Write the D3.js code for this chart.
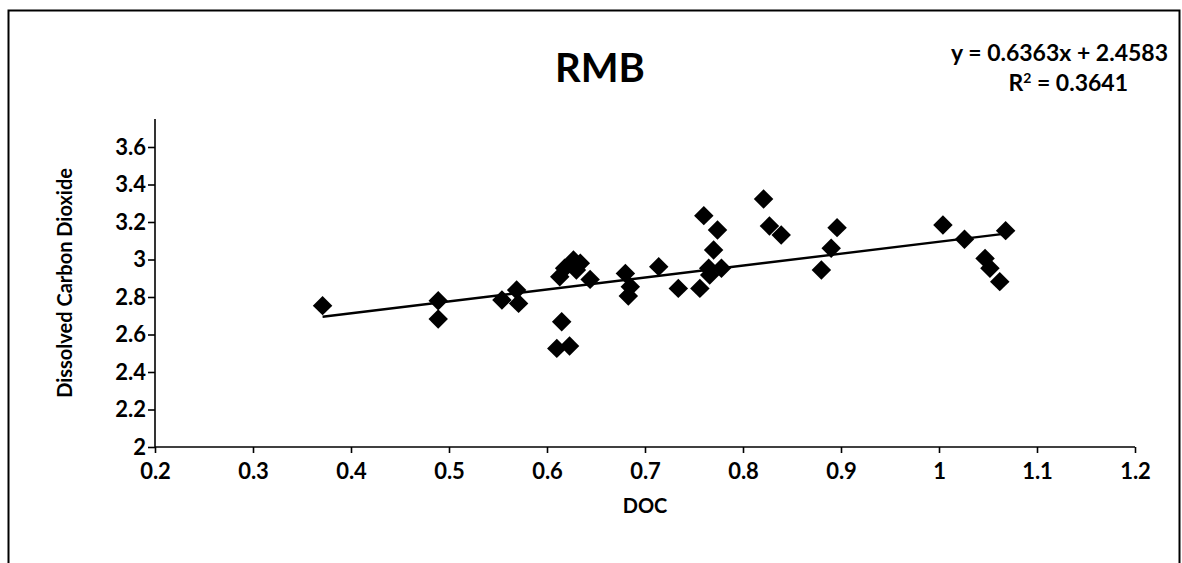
<!DOCTYPE html>
<html>
<head>
<meta charset="utf-8">
<script src="https://cdn.jsdelivr.net/npm/d3@7"></script>
<style>
  html, body { margin: 0; padding: 0; background: #fff; }
  svg { display: block; }
  text { font-family: Lato, "Open Sans", "DejaVu Sans", sans-serif; fill: #000; }
</style>
</head>
<body>
<svg id="chart" width="1182" height="563"></svg>
<script>
// Dissolved CO2 vs DOC at site RMB
const docValues = [
  0.371, 0.489, 0.489, 0.554, 0.569, 0.571,
  0.615, 0.610, 0.623, 0.627, 0.618, 0.613, 0.630, 0.634, 0.644,
  0.680, 0.685, 0.683, 0.714, 0.734, 0.756, 0.760, 0.774, 0.770,
  0.765, 0.766, 0.778, 0.821, 0.827, 0.839,
  0.896, 0.890, 0.880, 1.004, 1.026, 1.068, 1.047, 1.052, 1.062
];
const co2Values = [
  2.754, 2.780, 2.683, 2.784, 2.837, 2.766,
  2.668, 2.526, 2.539, 2.997, 2.953, 2.908, 2.944, 2.980, 2.894,
  2.926, 2.855, 2.805, 2.962, 2.846, 2.846, 3.234, 3.157, 3.051,
  2.953, 2.917, 2.953, 3.323, 3.179, 3.131,
  3.170, 3.060, 2.944, 3.184, 3.108, 3.154, 3.006, 2.953, 2.882
];
const xTicks = [0.2, 0.3, 0.4, 0.5, 0.6, 0.7, 0.8, 0.9, 1, 1.1, 1.2];
const yTicks = [2, 2.2, 2.4, 2.6, 2.8, 3, 3.2, 3.4, 3.6];
const trendSlope = 0.6363;
const trendIntercept = 2.4583;
const rSquared = 0.3641;

const svg = d3.select("#chart");

// outer chart frame
svg.append("rect")
  .attr("x", 8.5).attr("y", 10.5)
  .attr("width", 1171).attr("height", 600)
  .attr("fill", "none").attr("stroke", "#000").attr("stroke-width", 2);

const x = d3.scaleLinear().domain([0.2, 1.2]).range([155, 1135]);
const y = d3.scaleLinear().domain([2, 3.6]).range([447, 147]);

// y axis
const yAxis = svg.append("g")
  .attr("transform", `translate(${x(0.2)},0)`)
  .call(d3.axisLeft(y).tickValues(yTicks).tickSize(7).tickPadding(2)
    .tickFormat(d3.format("")))
yAxis.select(".domain").remove();
yAxis.append("line")
  .attr("x1", 0).attr("x2", 0)
  .attr("y1", y(3.75)).attr("y2", y(2))
  .attr("stroke", "#000").attr("stroke-width", 1.6);
yAxis.selectAll(".tick line").attr("stroke", "#000").attr("stroke-width", 1.6);
yAxis.selectAll(".tick text")
  .style("font-size", "22px").style("font-weight", "bold")
  .attr("fill", "#000");

// x axis
const xAxis = svg.append("g")
  .attr("transform", `translate(0,${y(2)})`)
  .call(d3.axisBottom(x).tickValues(xTicks).tickSize(6).tickPadding(10)
    .tickFormat(d3.format("")));
xAxis.select(".domain").remove();
xAxis.append("line")
  .attr("x1", x(0.2)).attr("x2", x(1.2))
  .attr("y1", 0).attr("y2", 0)
  .attr("stroke", "#000").attr("stroke-width", 1.6);
xAxis.selectAll(".tick line").attr("stroke", "#000").attr("stroke-width", 1.6);
xAxis.selectAll(".tick text")
  .style("font-size", "22px").style("font-weight", "bold")
  .attr("fill", "#000");

// axis titles
svg.append("text")
  .attr("x", (x(0.2) + x(1.2)) / 2).attr("y", 513)
  .attr("text-anchor", "middle")
  .style("font-size", "20px").style("font-weight", "bold")
  .text("DOC");

svg.append("text")
  .attr("transform", `translate(72,${(y(2) + y(3.75)) / 2}) rotate(-90)`)
  .attr("text-anchor", "middle")
  .style("font-size", "20px").style("font-weight", "bold")
  .text("Dissolved Carbon Dioxide");

// chart title
svg.append("text")
  .attr("x", 600).attr("y", 82)
  .attr("text-anchor", "middle")
  .style("font-size", "40px").style("font-weight", "bold")
  .text("RMB");

// trendline equation
svg.append("text")
  .attr("x", 1168).attr("y", 61)
  .attr("text-anchor", "end")
  .style("font-size", "23px").style("font-weight", "bold")
  .text(`y = ${trendSlope}x + ${trendIntercept}`);
const r2 = svg.append("text")
  .attr("x", 1128).attr("y", 91)
  .attr("text-anchor", "end")
  .style("font-size", "23px").style("font-weight", "bold");
r2.append("tspan").text("R");
r2.append("tspan").attr("dy", -8).style("font-size", "14px").text("2");
r2.append("tspan").attr("dy", 8).text(` = ${rSquared}`);

// markers
const points = docValues.map((d, i) => ({ doc: d, co2: co2Values[i] }));
const diamond = d3.symbol().type(d3.symbolSquare).size(190);
svg.append("g")
  .selectAll("path")
  .data(points)
  .join("path")
  .attr("d", diamond)
  .attr("transform", d => `translate(${x(d.doc)},${y(d.co2)}) rotate(45)`)
  .attr("fill", "#000");

// linear trendline across the data range
const [xmin, xmax] = d3.extent(docValues);
svg.append("line")
  .attr("x1", x(xmin)).attr("y1", y(trendSlope * xmin + trendIntercept))
  .attr("x2", x(xmax)).attr("y2", y(trendSlope * xmax + trendIntercept))
  .attr("stroke", "#000").attr("stroke-width", 2.4);
</script>
</body>
</html>
